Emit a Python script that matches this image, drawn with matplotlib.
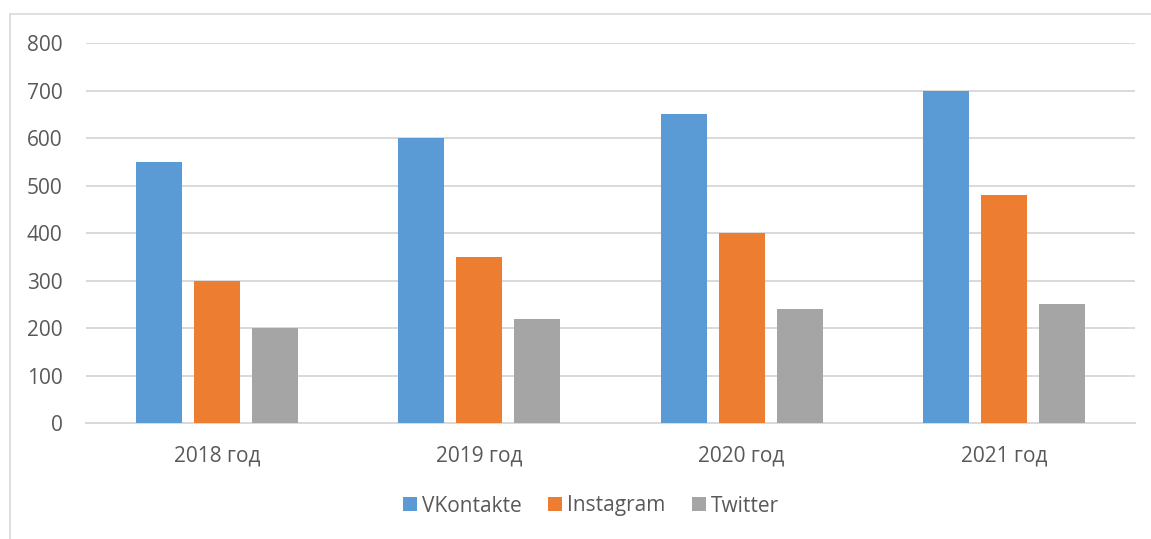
import numpy as np
import matplotlib.pyplot as plt
from matplotlib.lines import Line2D

years = ["2018 год", "2019 год", "2020 год", "2021 год"]
vkontakte = [550, 600, 650, 700]
instagram = [300, 350, 400, 480]
twitter = [200, 220, 240, 250]

series = [("VKontakte", vkontakte, "#5b9bd5"),
          ("Instagram", instagram, "#ed7d31"),
          ("Twitter", twitter, "#a5a5a5")]

plt.rcParams["font.family"] = ["Open Sans", "DejaVu Sans"]

W, H = 1151, 539
fig = plt.figure(figsize=(W / 100, H / 100), dpi=100)
ax = fig.add_axes([86 / W, 1 - 423 / H, (1135 - 86) / W, (423 - 43) / H])

x = np.arange(len(years))
width = 0.175
step = 0.221
for i, (name, vals, color) in enumerate(series):
    ax.bar(x + (i - 1) * step, vals, width, color=color, label=name, zorder=3)

ax.set_xlim(-0.5, len(years) - 0.5)
ax.set_ylim(0, 800)
ax.set_yticks(range(0, 801, 100))
ax.set_xticks(x)
ax.set_xticklabels(years)
ax.grid(axis="y", color="#d9d9d9", linewidth=1.4, zorder=0)
for s in ["top", "right", "left"]:
    ax.spines[s].set_visible(False)
ax.spines["bottom"].set_color("#d9d9d9")
ax.spines["bottom"].set_linewidth(1.4)
ax.tick_params(axis="both", length=0, labelsize=15, labelcolor="#595959")
ax.tick_params(axis="y", pad=17)
ax.tick_params(axis="x", pad=16)

fig.legend(loc="center", bbox_to_anchor=(591 / W, 1 - 506 / H), ncol=3,
           frameon=False, fontsize=15, labelcolor="#595959",
           handlelength=0.67, handleheight=0.67, handletextpad=0.25,
           columnspacing=1.25)

# chart area border (partially cropped)
fig.add_artist(Line2D([10 / W, 10 / W], [0, 1 - 14 / H], transform=fig.transFigure,
                      color="#d9d9d9", linewidth=1.2))
fig.add_artist(Line2D([10 / W, 1], [1 - 14 / H, 1 - 14 / H], transform=fig.transFigure,
                      color="#d9d9d9", linewidth=1.2))

fig.savefig("out.png", dpi=100)
